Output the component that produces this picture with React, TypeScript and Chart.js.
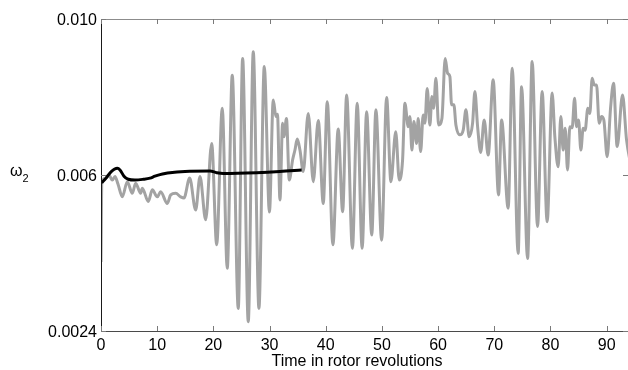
import React, { useEffect, useRef } from "react";
import { Chart, registerables } from "chart.js";

Chart.register(...registerables);

const xTickValues = [0, 10, 20, 30, 40, 50, 60, 70, 80, 90];
const xTickLabels = ["0", "10", "20", "30", "40", "50", "60", "70", "80", "90"];
const yTickValues = [0.002, 0.006, 0.01];
const yTickLabels = ["0.0024", "0.006", "0.010"];
const xTitle = "Time in rotor revolutions";
const yTitle = "ω";
const yTitleSub = "2";

const grayX = [
  0, 0.15, 0.84, 1.42, 2.01, 2.49, 3.02, 3.79, 4.68, 5.57, 6.17, 7.06, 7.35, 8.42, 9.13, 10.02,
  10.62, 11.8, 12.4, 13.29, 14.18, 14.77, 15.78, 16.85, 17.62, 18.63, 19.7, 20.59, 21.58, 22.47,
  23.36, 24.43, 25.21, 26.21, 27.1, 28.11, 29.06, 29.98, 30.66, 31.14, 31.41, 31.85, 32.33, 32.56,
  33.01, 33.51, 34.11, 34.52, 34.93, 35.41, 36.0, 36.89, 37.78, 38.67, 39.56, 40.27, 41.28, 42.22,
  43.01, 43.72, 44.75, 45.6, 46.48, 47.28, 48.19, 48.93, 49.95, 50.84, 51.6, 52.46, 53.08, 53.68,
  54.09, 54.68, 54.98, 55.34, 55.69, 56.17, 56.46, 56.89, 57.35, 57.65, 58.06, 58.54, 58.9, 59.2,
  59.61, 60.09, 60.68, 61.26, 61.69, 62.1, 62.4, 62.81, 63.17, 63.88, 64.47, 64.95, 65.53, 66.14,
  66.55, 67.03, 67.58, 68.2, 68.91, 69.8, 70.76, 71.3, 72.47, 73.19, 74.25, 74.86, 75.93, 76.74,
  77.7, 78.52, 79.41, 80.3, 80.78, 81.37, 81.85, 82.26, 82.62, 83.04, 83.45, 83.86, 84.29, 84.64,
  85.0, 85.41, 85.82, 86.17, 86.65, 87.01, 87.42, 87.78, 88.2, 88.67, 89.09, 89.5, 90.09, 90.69,
  91.23, 91.87, 92.83, 93.54, 94.5,
];
const grayY = [
  0.00377, 0.00583, 0.00592, 0.006, 0.00587, 0.00596, 0.00577, 0.00544, 0.00583, 0.00553, 0.00579,
  0.00553, 0.00566, 0.00532, 0.00562, 0.00544, 0.00557, 0.00527, 0.00549, 0.00553, 0.00544,
  0.00541, 0.00592, 0.0051, 0.00596, 0.00485, 0.00681, 0.00421, 0.00771, 0.00361, 0.00856,
  0.00258, 0.00899, 0.00224, 0.00916, 0.00258, 0.00878, 0.00505, 0.00792, 0.0075, 0.00756,
  0.00536, 0.00733, 0.00698, 0.00745, 0.00587, 0.00639, 0.00664, 0.00692, 0.00664, 0.00609,
  0.00758, 0.00583, 0.0074, 0.00527, 0.00788, 0.00421, 0.00718, 0.00506, 0.00805, 0.00412,
  0.00784, 0.00412, 0.00762, 0.00446, 0.00767, 0.00433, 0.00799, 0.00583, 0.00711, 0.00587,
  0.00639, 0.00784, 0.00724, 0.0075, 0.00664, 0.00737, 0.00681, 0.00745, 0.0066, 0.00754,
  0.00733, 0.00822, 0.00728, 0.00801, 0.00771, 0.00848, 0.00728, 0.00745, 0.00899, 0.00861,
  0.00852, 0.0078, 0.0078, 0.00728, 0.00703, 0.00715, 0.00767, 0.00698, 0.00733, 0.00814,
  0.00724, 0.00658, 0.00741, 0.00651, 0.00844, 0.00549, 0.00741, 0.00515, 0.00874, 0.00399,
  0.00826, 0.00386, 0.00891, 0.00468, 0.00814, 0.0048, 0.0081, 0.00698, 0.00621, 0.0075,
  0.00664, 0.0072, 0.00613, 0.00724, 0.00721, 0.00797, 0.00724, 0.00741, 0.00664, 0.0072,
  0.00715, 0.00771, 0.00758, 0.00848, 0.00831, 0.00831, 0.00733, 0.0075, 0.00741, 0.00647,
  0.00771, 0.00835, 0.00673, 0.00805, 0.0069, 0.00613,
];

const blackX = [
  0.12, 0.9, 1.78, 2.9, 3.38, 4.09, 4.86, 6.05, 7.53, 8.72, 9.6, 10.5, 11.4, 12.28, 14.95, 19.4,
  20.59, 21.76, 27.7, 31.85, 35.71,
];
const blackY = [
  0.0058, 0.00592, 0.00608, 0.00617, 0.00613, 0.00597, 0.00589, 0.00587, 0.00589, 0.00592,
  0.00597, 0.00601, 0.00604, 0.00606, 0.00609, 0.0061, 0.00606, 0.00604, 0.00606, 0.00609,
  0.00613,
];

const X_MIN = 0;
const X_MAX = 93.8;
const Y_MIN = 0.002;
const Y_MAX = 0.01;

const FONT = "'Liberation Sans', Arial, Helvetica, sans-serif";

const framePlugin = {
  id: "frame",
  afterDraw(chart: any) {
    const { ctx, chartArea } = chart;
    const xs = chart.scales.x;
    const ys = chart.scales.y;
    const { left, right, top, bottom } = chartArea;
    ctx.save();
    ctx.lineWidth = 1;
    // top axis
    ctx.strokeStyle = "#8c8c8c";
    ctx.beginPath();
    ctx.moveTo(left, top + 0.5);
    ctx.lineTo(right + 2, top + 0.5);
    ctx.stroke();
    // bottom axis
    ctx.strokeStyle = "#4a4a4a";
    ctx.beginPath();
    ctx.moveTo(left, bottom + 0.5);
    ctx.lineTo(right + 2, bottom + 0.5);
    ctx.stroke();
    // left axis
    ctx.strokeStyle = "#1a1a1a";
    ctx.beginPath();
    ctx.moveTo(left + 0.5, top);
    ctx.lineTo(left + 0.5, bottom + 1);
    ctx.stroke();
    // tick marks
    ctx.strokeStyle = "#7a7a7a";
    ctx.beginPath();
    xTickValues.forEach((v) => {
      const px = Math.round(xs.getPixelForValue(v)) + 0.5;
      ctx.moveTo(px, bottom);
      ctx.lineTo(px, bottom - 5);
      ctx.moveTo(px, top);
      ctx.lineTo(px, top + 5);
    });
    yTickValues.forEach((v) => {
      const py = Math.round(ys.getPixelForValue(v)) + 0.5;
      ctx.moveTo(left, py);
      ctx.lineTo(left + 5, py);
      ctx.moveTo(right, py);
      ctx.lineTo(right - 5, py);
    });
    ctx.stroke();
    // x title
    ctx.fillStyle = "#000";
    ctx.font = `16px ${FONT}`;
    ctx.textAlign = "center";
    ctx.textBaseline = "alphabetic";
    ctx.fillText(xTitle, 357, 366);
    // y title with subscript
    ctx.textAlign = "left";
    ctx.font = `16px ${FONT}`;
    const yMid = ys.getPixelForValue(yTickValues[1]);
    ctx.fillText(yTitle, 10, yMid + 1);
    const w = ctx.measureText(yTitle).width;
    ctx.font = `11px ${FONT}`;
    ctx.fillText(yTitleSub, 10 + w, yMid + 7);
    ctx.restore();
  },
};

export default function App() {
  const ref = useRef<HTMLCanvasElement>(null);
  useEffect(() => {
    if (!ref.current) return;
    const chart = new Chart(ref.current, {
      type: "line",
      data: {
        datasets: [
          {
            label: "black",
            data: blackX.map((x, i) => ({ x, y: blackY[i] })),
            borderColor: "#000000",
            borderWidth: 3,
            pointRadius: 0,
            cubicInterpolationMode: "monotone",
            fill: false,
          },
          {
            label: "gray",
            data: grayX.map((x, i) => ({ x, y: grayY[i] })),
            borderColor: "#a3a3a3",
            borderWidth: 3,
            pointRadius: 0,
            cubicInterpolationMode: "monotone",
            fill: false,
          },
        ],
      },
      options: {
        responsive: false,
        animation: false,
        events: [],
        layout: { padding: { top: 19, left: 0, right: 0, bottom: 0 } },
        plugins: { legend: { display: false }, tooltip: { enabled: false }, title: { display: false } },
        scales: {
          x: {
            type: "linear",
            min: X_MIN,
            max: X_MAX,
            grid: { display: false, drawTicks: false },
            border: { display: false },
            afterBuildTicks: (s: any) => {
              s.ticks = xTickValues.map((v) => ({ value: v }));
            },
            afterFit: (s: any) => {
              s.height = 39;
            },
            ticks: {
              autoSkip: false,
              maxRotation: 0,
              padding: 5,
              color: "#000",
              font: { family: FONT, size: 16 },
              callback: (v: any) => {
                const i = xTickValues.indexOf(Number(v));
                return i >= 0 ? xTickLabels[i] : "";
              },
            },
          },
          y: {
            type: "linear",
            min: Y_MIN,
            max: Y_MAX,
            grid: { display: false, drawTicks: false },
            border: { display: false },
            afterBuildTicks: (s: any) => {
              s.ticks = yTickValues.map((v) => ({ value: v }));
            },
            afterFit: (s: any) => {
              s.width = 101;
            },
            ticks: {
              autoSkip: false,
              padding: 4,
              labelOffset: 2,
              color: "#000",
              font: { family: FONT, size: 16 },
              callback: (v: any) => {
                const i = yTickValues.findIndex((t) => Math.abs(t - Number(v)) < 1e-9);
                return i >= 0 ? yTickLabels[i] : "";
              },
            },
          },
        },
      },
      plugins: [framePlugin],
    } as any);
    return () => chart.destroy();
  }, []);
  return (
    <div style={{ position: "fixed", left: 0, top: 0, width: 628, height: 370, background: "#fff" }}>
      <canvas ref={ref} width={628} height={370} style={{ display: "block" }} />
    </div>
  );
}
